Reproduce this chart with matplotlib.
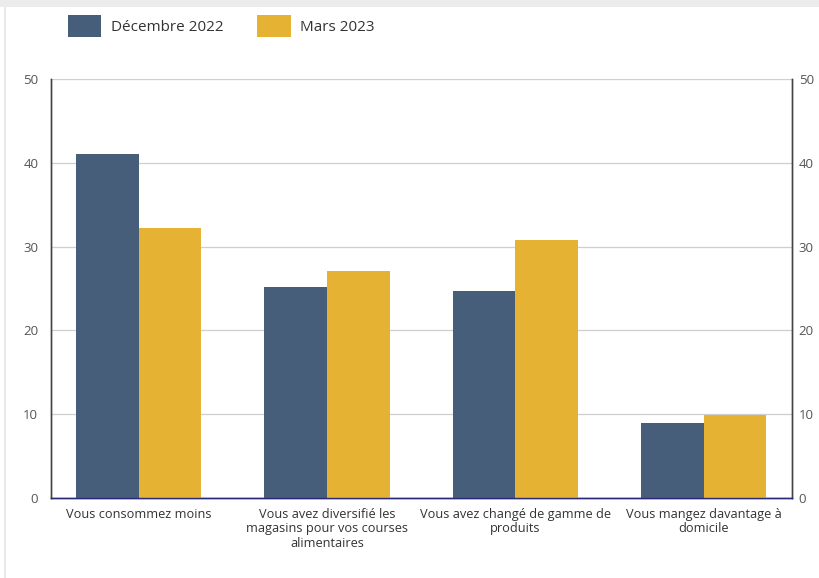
import matplotlib
matplotlib.use("Agg")
import matplotlib.pyplot as plt
import numpy as np
from matplotlib.patches import Patch
from matplotlib.lines import Line2D

categories = ["Vous consommez moins",
              "Vous avez diversifié les\nmagasins pour vos courses\nalimentaires",
              "Vous avez changé de gamme de\nproduits",
              "Vous mangez davantage à\ndomicile"]
series_names = ["Décembre 2022", "Mars 2023"]
dec_2022 = [41.0, 25.2, 24.7, 8.9]
mars_2023 = [32.2, 27.1, 30.8, 9.9]
yticks = [0, 10, 20, 30, 40, 50]

plt.rcParams['font.family'] = ['Open Sans', 'DejaVu Sans']

c_dark = "#465e7a"
c_yel = "#e5b233"

fig = plt.figure(figsize=(8.19, 5.78), dpi=100)
ax = fig.add_axes([50.7/819, 1-498/578, (791.7-50.7)/819, (498-79)/578])

x = np.arange(len(categories))
w = 0.332
ax.bar(x - w/2, dec_2022, w, color=c_dark, zorder=3)
ax.bar(x + w/2, mars_2023, w, color=c_yel, zorder=3)

ax.set_xlim(-0.466, len(categories) - 1 + 0.466)
ax.set_ylim(0, 50)
ax.set_yticks(yticks)
ax.set_yticklabels([str(t) for t in yticks])
ax.yaxis.grid(True, color="#cfcfcf", linewidth=0.9, zorder=0)
ax.set_xticks(x)
ax.set_xticklabels(categories, fontsize=9.2, color="#333333", linespacing=1.15)
ax.tick_params(axis='x', length=0, pad=7)
ax.tick_params(axis='y', length=0, labelsize=9.5, labelcolor="#555555", pad=9)

ax2 = ax.twinx()
ax2.set_ylim(0, 50)
ax2.set_yticks(yticks)
ax2.set_yticklabels([str(t) for t in yticks])
ax2.tick_params(axis='y', length=0, labelsize=9.5, labelcolor="#555555", pad=5)

for a in (ax, ax2):
    a.spines['top'].set_visible(False)
    a.spines['left'].set_color("#444444")
    a.spines['right'].set_color("#444444")
    a.spines['bottom'].set_color("#2b2b7a")
    for s in ['left', 'right', 'bottom']:
        a.spines[s].set_linewidth(1.0)

handles = [Patch(facecolor=c_dark), Patch(facecolor=c_yel)]
fig.legend(handles, series_names, loc="upper left", bbox_to_anchor=(54/819, 1-1/578),
           ncol=2, frameon=False, fontsize=11, handlelength=2.2, handleheight=1.9,
           columnspacing=2.2, handletextpad=0.62, labelcolor="#333333")

# page borders from screenshot
fig.add_artist(Line2D([5/819, 5/819], [0, 1-5/578], color="#e6e6e6", linewidth=1.2))
fig.add_artist(Line2D([0, 1], [1-3/578, 1-3/578], color="#ececec", linewidth=5))

fig.savefig("out.png", dpi=100)
